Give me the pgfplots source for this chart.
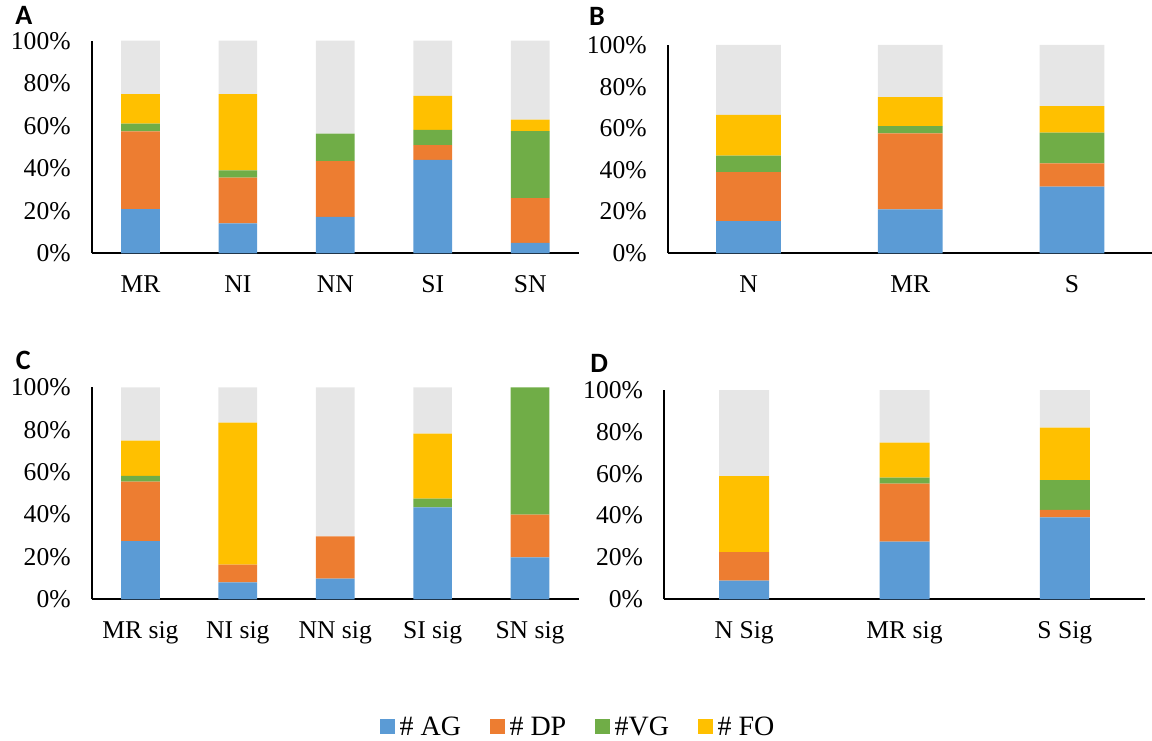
\documentclass[border=0pt]{standalone}
\usepackage{pgfplots}
\pgfplotsset{compat=1.18}
\usepackage{pgfplotstable}
\usepackage{fontspec}
\setmainfont{Liberation Serif}
\newfontfamily\letterfont{Carlito}

\definecolor{cAG}{HTML}{5B9BD5}
\definecolor{cDP}{HTML}{ED7D31}
\definecolor{cVG}{HTML}{70AD47}
\definecolor{cFO}{HTML}{FFC000}
\definecolor{cOT}{HTML}{E6E6E6}

\pgfplotstableread{
x ag dp vg fo ot
0 20.8 36.6 3.6 13.9 25.1
1 14.1 21.5 3.4 35.9 25.1
2 17.1 26.2 13.0 0 43.7
3 44.0 6.9 7.1 16.1 25.9
4 4.9 21.1 31.5 5.4 37.1
}\tabA
\pgfplotstableread{
x ag dp vg fo ot
0 15.4 23.6 7.9 19.5 33.6
1 21.1 36.5 3.5 13.9 25.0
2 32.0 11.2 14.7 12.8 29.3
}\tabB
\pgfplotstableread{
x ag dp vg fo ot
0 27.5 28.0 2.7 16.6 25.2
1 8.0 8.4 0 66.9 16.7
2 9.7 20.0 0 0 70.3
3 43.4 0 4.1 30.6 21.9
4 19.8 20.1 60.1 0 0
}\tabC
\pgfplotstableread{
x ag dp vg fo ot
0 8.9 13.6 0 36.4 41.1
1 27.5 27.8 2.8 16.7 25.2
2 39.2 3.5 14.3 25.0 18.0
}\tabD

\pgfplotsset{
  panel/.style={
    scale only axis, ybar stacked, anchor=south west,
    ymin=0, ymax=100, enlargelimits=false,
    axis x line=bottom, axis y line=left,
    axis line style={-, line width=1pt, black},
    major tick length=0pt,
    ytick={0,20,...,100}, yticklabels={0\%,20\%,40\%,60\%,80\%,100\%},
    tick label style={font=\fontsize{12.8}{15}\selectfont},
    yticklabel style={xshift=-7pt},
    xticklabel style={yshift=-7.5pt},
    every axis plot/.append style={draw=none},
  },
}
\newcommand{\bars}[1]{%
  \addplot[fill=cAG] table[x=x,y=ag]{#1};
  \addplot[fill=cDP] table[x=x,y=dp]{#1};
  \addplot[fill=cVG] table[x=x,y=vg]{#1};
  \addplot[fill=cFO] table[x=x,y=fo]{#1};
  \addplot[fill=cOT] table[x=x,y=ot]{#1};
}

\begin{document}
\begin{tikzpicture}
\useasboundingbox (0,0) rectangle (576pt,370pt);

% Panel A
\begin{axis}[panel, at={(45.85pt,243.35pt)}, width=243.65pt, height=106.3pt,
  xmin=-0.5, xmax=4.5, bar width=19.35pt,
  xtick={0,1,2,3,4}, xticklabels={MR,NI,NN,SI,SN}]
  \bars{\tabA}
\end{axis}

% Panel B
\begin{axis}[panel, at={(333.85pt,243.35pt)}, width=242.55pt, height=104.15pt,
  xmin=-0.5, xmax=2.5, bar width=32.35pt,
  xtick={0,1,2}, xticklabels={N,MR,S}]
  \bars{\tabB}
\end{axis}

% Panel C
\begin{axis}[panel, at={(45.85pt,70.35pt)}, width=243.5pt, height=106pt,
  xmin=-0.5, xmax=4.5, bar width=19.35pt,
  xtick={0,1,2,3,4}, xticklabels={MR sig,NI sig,NN sig,SI sig,SN sig}]
  \bars{\tabC}
\end{axis}

% Panel D
\begin{axis}[panel, at={(332pt,70.35pt)}, width=240.5pt, height=104.65pt,
  xmin=-0.5, xmax=2.5, bar width=25pt,
  xtick={0,1,2}, xticklabels={N Sig,MR sig,S Sig},
  legend columns=4,
  legend style={at={(-0.175,-0.615)}, anchor=center, draw=none,
    font=\fontsize{14}{16}\selectfont,
    /tikz/every even column/.append style={column sep=12pt},
    nodes={inner xsep=2.5pt}},
  legend image code/.code={\fill[#1] (0pt,-3.2pt) rectangle (7.2pt,4.3pt);}]
  \bars{\tabD}
  \legend{\# AG,\# DP,\#VG,\# FO}
\end{axis}

\node[anchor=base west, inner sep=0pt, font=\letterfont\bfseries\fontsize{14}{16}\selectfont] at (7.45pt,357.5pt) {A};
\node[anchor=base west, inner sep=0pt, font=\letterfont\bfseries\fontsize{14}{16}\selectfont] at (294.3pt,357pt) {B};
\node[anchor=base west, inner sep=0pt, font=\letterfont\bfseries\fontsize{14}{16}\selectfont] at (7.8pt,185pt) {C};
\node[anchor=base west, inner sep=0pt, font=\letterfont\bfseries\fontsize{14}{16}\selectfont] at (295pt,183.5pt) {D};
\end{tikzpicture}
\end{document}
